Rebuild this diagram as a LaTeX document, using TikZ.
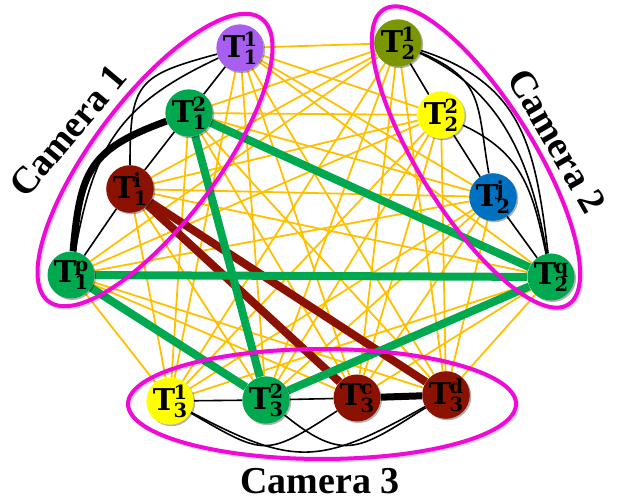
\documentclass[tikz,border=0pt]{standalone}
\usepackage{fontspec}
\setmainfont{Liberation Serif}
\newfontfamily\labelfont{DejaVu Serif}
\usetikzlibrary{shadows}

\definecolor{crossorange}{RGB}{255,192,0}
\definecolor{matchgreen}{RGB}{0,168,80}
\definecolor{matchred}{RGB}{139,18,0}
\definecolor{ringmagenta}{RGB}{240,10,215}
\definecolor{tpurple}{RGB}{168,94,238}
\definecolor{tolive}{RGB}{122,150,0}
\definecolor{tyellow}{RGB}{255,255,0}
\definecolor{tblue}{RGB}{0,112,192}

\pgfdeclarelayer{edges}
\pgfdeclarelayer{rings}
\pgfsetlayers{edges,main,rings}

% track label: T with a stacked superscript and subscript
\newcommand\tlab[2]{\labelfont\bfseries\fontsize{30}{30}\selectfont T\kern-1.5pt\fontsize{19.5}{19.5}\selectfont\rlap{\raisebox{11pt}{#1}}\raisebox{-7pt}{#2}}

\tikzset{
  tnode/.style={circle, minimum size=47pt, inner sep=0pt,
    drop shadow={shadow xshift=1.5pt, shadow yshift=-1.5pt, opacity=0.3, fill=black}},
  cross/.style={draw=crossorange, line width=1.8pt},
  inner/.style={draw=black, line width=1.6pt},
  heavy/.style={draw=black, line width=7pt},
  matchg/.style={draw=matchgreen, line width=8pt},
  matchr/.style={draw=matchred, line width=8pt},
  ring/.style={draw=ringmagenta, line width=4pt},
  ringshade/.style={draw=black, opacity=0.15, line width=4pt},
  cam/.style={font=\bfseries\fontsize{38}{40}\selectfont, inner sep=0pt}
}

\begin{document}
\begin{tikzpicture}[x=1pt, y=1pt]
\useasboundingbox (0,0) rectangle (619,501);

% camera 1 tracks
\node[tnode, fill=tpurple]    (T11) at (240,453) {\tlab{1}{1}};
\node[tnode, fill=matchgreen] (T12) at (189,388) {\tlab{2}{1}};
\node[tnode, fill=matchred]   (T1i) at (130,312) {\tlab{i}{1}};
\node[tnode, fill=matchgreen] (T1p) at (71,226)  {\tlab{p}{1}};
% camera 2 tracks
\node[tnode, fill=tolive]     (T21) at (398,458) {\tlab{1}{2}};
\node[tnode, fill=tyellow]    (T22) at (441,386) {\tlab{2}{2}};
\node[tnode, fill=tblue]      (T2j) at (493,304) {\tlab{j}{2}};
\node[tnode, fill=matchgreen] (T2q) at (551,224) {\tlab{q}{2}};
% camera 3 tracks
\node[tnode, fill=tyellow]    (T31) at (170,100) {\tlab{1}{3}};
\node[tnode, fill=matchgreen] (T32) at (266,101) {\tlab{2}{3}};
\node[tnode, fill=matchred]   (T3c) at (357,103) {\tlab{c}{3}};
\node[tnode, fill=matchred]   (T3d) at (446,106) {\tlab{d}{3}};

\begin{pgfonlayer}{edges}
  % candidate links between cameras
  \foreach \a/\b in {T11/T21,T11/T22,T11/T2j,T11/T2q,
                     T12/T21,T12/T22,T12/T2j,
                     T1i/T21,T1i/T22,T1i/T2j,T1i/T2q,
                     T1p/T21,T1p/T22,T1p/T2j,
                     T11/T31,T11/T32,T11/T3c,T11/T3d,
                     T12/T31,T12/T3c,T12/T3d,
                     T1i/T31,T1i/T32,
                     T1p/T31,T1p/T3c,T1p/T3d,
                     T21/T31,T21/T32,T21/T3c,T21/T3d,
                     T22/T31,T22/T32,T22/T3c,T22/T3d,
                     T2j/T31,T2j/T32,T2j/T3c,T2j/T3d,
                     T2q/T31,T2q/T3c,T2q/T3d}
    \draw[cross] (\a) -- (\b);

  % links inside camera 1
  \draw[inner] (T11) -- (T12);
  \draw[inner] (T12) -- (T1i);
  \draw[inner] (T1i) -- (T1p);
  \draw[inner] (T11) to[out=195, in=90, looseness=1.5] (T1i);
  \draw[inner] (T11) to[out=205, in=80, looseness=1.15] (T1p);
  \draw[heavy] (T12) to[out=200, in=85, looseness=1.3] (T1p);

  % links inside camera 2
  \draw[inner] (T21) -- (T22);
  \draw[inner] (T22) -- (T2j);
  \draw[inner] (T2j) -- (T2q);
  \draw[inner] (T21) to[out=-23, in=100, looseness=1.3] (T2j);
  \draw[inner] (T21) to[out=-18, in=97, looseness=1.15] (T2q);
  \draw[inner] (T21) to[out=-25, in=100, looseness=1.0] (T2q);
  \draw[inner] (T22) to[out=-25, in=102, looseness=1.1] (T2q);

  % links inside camera 3
  \draw[inner] (T31) -- (T32);
  \draw[inner] (T32) -- (T3c);
  \draw[heavy] (T3c) -- (T3d);
  \draw[inner] (T31) to[out=-30, in=213, looseness=1.5] (T3c);
  \draw[inner] (T31) to[out=-28, in=209, looseness=1.3] (T3d);
  \draw[inner] (T32) to[out=-39, in=212, looseness=1.4] (T3d);

  % matched associations
  \draw[matchr] (T1i) -- (T3c);
  \draw[matchr] (T1i) -- (T3d);
  \draw[matchg] (T12) -- (T2q);
  \draw[matchg] (T12) -- (T32);
  \draw[matchg] (T1p) -- (T2q);
  \draw[matchg] (T1p) -- (T32);
  \draw[matchg] (T32) -- (T2q);
\end{pgfonlayer}

\begin{pgfonlayer}{rings}
  \draw[ringshade, rotate around={53:(156.5,339.5)}] (156.5,339.5) ellipse [x radius=177pt, y radius=62pt];
  \draw[ringshade, rotate around={-58:(477.5,342.5)}] (477.5,342.5) ellipse [x radius=174pt, y radius=57pt];
  \draw[ringshade] (323.5,95.5) ellipse [x radius=194pt, y radius=55pt];
  \draw[ring, rotate around={53:(155,341)}] (155,341) ellipse [x radius=177pt, y radius=62pt];
  \draw[ring, rotate around={-58:(476,344)}] (476,344) ellipse [x radius=174pt, y radius=57pt];
  \draw[ring] (322,97) ellipse [x radius=194pt, y radius=55pt];
\end{pgfonlayer}

% camera names
\node[cam, rotate=50]  (cam1) at (68,370)  {Camera 1};
\node[cam, rotate=-60] (cam2) at (557,360) {Camera 2};
\node[cam, anchor=base] (cam3) at (320,7)  {Camera 3};
\end{tikzpicture}
\end{document}
